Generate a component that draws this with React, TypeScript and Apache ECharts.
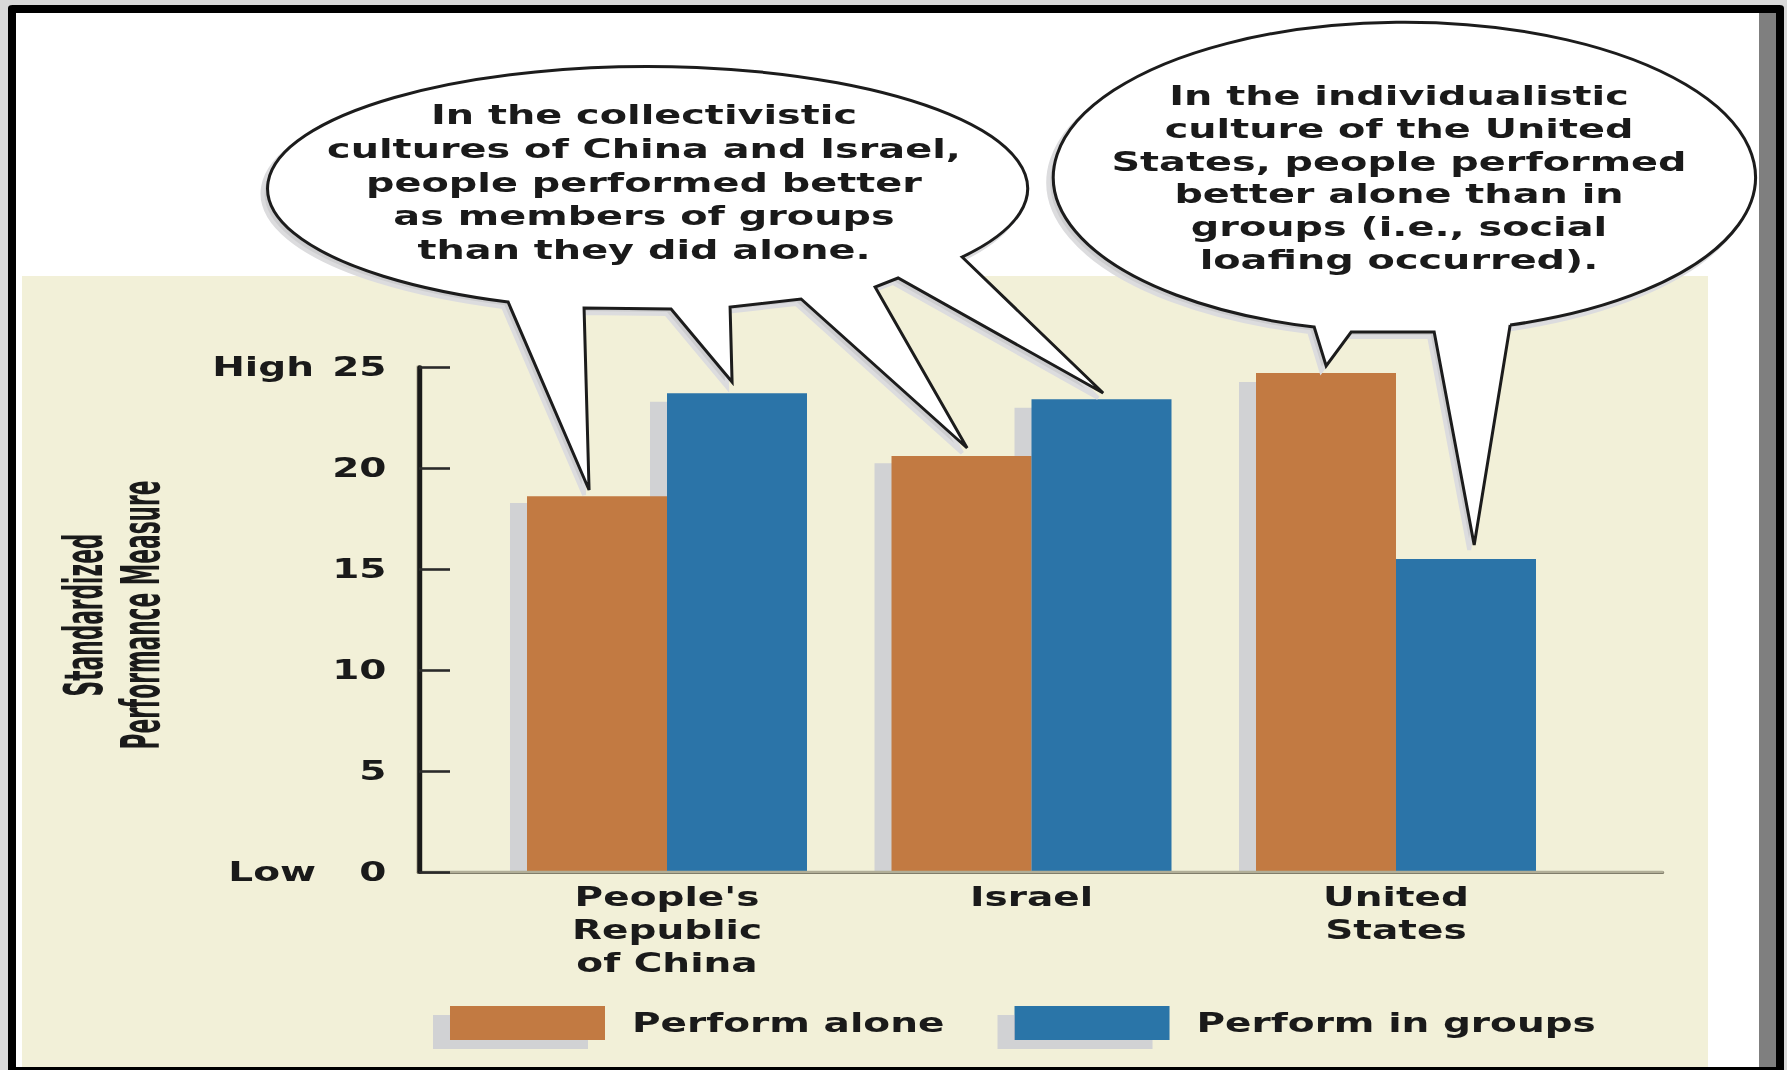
import React, { useEffect, useRef } from 'react';
import * as echarts from 'echarts';

// ---------- data ----------
const categories = ["People's\nRepublic\nof China", 'Israel', 'United\nStates'];
const performAlone = [18.6, 20.6, 24.7];
const performInGroups = [23.7, 23.4, 15.5];
const seriesNames = ['Perform alone', 'Perform in groups'];
const yMin = 0;
const yMax = 25;
const yInterval = 5;
const yTopWord = 'High';
const yBottomWord = 'Low';
const yAxisTitle = ['Standardized', 'Performance Measure'];
const calloutLeft = [
  'In the collectivistic',
  'cultures of China and Israel,',
  'people performed better',
  'as members of groups',
  'than they did alone.',
];
const calloutRight = [
  'In the individualistic',
  'culture of the United',
  'States, people performed',
  'better alone than in',
  'groups (i.e., social',
  'loafing occurred).',
];

// ---------- layout (the reference is a horizontally stretched picture) ----------
const W = 1190;
const H = 1070;
const S = 1787 / W;
const ux = (x: number) => x / S;

const FONT = "'DejaVu Sans', Verdana, sans-serif";
const NARROW = "'Liberation Sans Narrow', 'DejaVu Sans Condensed', sans-serif";
const TXT = '#1a1a1a';
const ORANGE = '#c27a42';
const BLUE = '#2b74a8';
const SHADOW = '#d1d2d4';
const BEIGE = '#f2f0d8';

const bubbleLeftD =
  'M 962 257 L 1103 393 L 898 278 L 875 287 L 967 448 L 801 299 L 730 307 L 732 382 L 671 309 L 584 308 L 589 490 L 508 302 A 380 122 0 1 1 962 257 Z';
const bubbleRightD =
  'M 1510 325 L 1474 545 L 1434 332 L 1351 332 L 1326 366 L 1314 327 A 351 155 0 1 1 1510 325 Z';

let registered = false;
function registerShapes() {
  if (registered) return;
  registered = true;
  echarts.graphic.registerShape('bubbleLeft', echarts.graphic.extendPath(bubbleLeftD, {}) as any);
  echarts.graphic.registerShape('bubbleRight', echarts.graphic.extendPath(bubbleRightD, {}) as any);
}

const axisTop = 367;
const axisBottom = 872;
const bandW = (ux(1396) - ux(667)) / 2;
const barsLeft = ux(667) - bandW / 2;
const barW = ux(140);

const labelFont = { fontFamily: FONT, fontSize: 26, fontWeight: 'bold' as const, color: TXT };

export default function App() {
  const ref = useRef<HTMLDivElement>(null);

  useEffect(() => {
    if (!ref.current) return;
    registerShapes();
    const chart = echarts.init(ref.current, undefined, { renderer: 'svg' });

    const bubbleStyle = { fill: '#ffffff', stroke: '#1c1c1c', lineWidth: 3 };
    const haloStyle = { fill: '#cdcdcf', stroke: '#dcdcde', lineWidth: 4 };

    const option: any = {
      animation: false,
      backgroundColor: 'transparent',
      textStyle: { fontFamily: FONT },
      grid: [
        { left: ux(419), top: axisTop, width: ux(1662) - ux(419), height: axisBottom - axisTop },
        { left: barsLeft, top: axisTop, width: bandW * 3, height: axisBottom - axisTop },
        { left: barsLeft - ux(17), top: 376, width: bandW * 3, height: axisBottom - 376 },
      ],
      xAxis: [
        {
          gridIndex: 0, type: 'value', min: 0, max: 1, position: 'bottom', z: 5,
          axisLine: { show: true, lineStyle: { color: 'rgba(70,65,50,0.75)', width: 3 } },
          axisTick: { show: false }, axisLabel: { show: false }, splitLine: { show: false },
        },
        {
          gridIndex: 0, type: 'value', min: 0, max: 1, position: 'bottom', offset: 2.7, z: 5,
          axisLine: { show: true, lineStyle: { color: '#b1ae97', width: 2.4 } },
          axisTick: { show: false }, axisLabel: { show: false }, splitLine: { show: false },
        },
        {
          gridIndex: 1, type: 'category', data: categories,
          axisLine: { show: false }, axisTick: { show: false }, splitLine: { show: false },
          axisLabel: { ...labelFont, margin: 8, lineHeight: 33, interval: 0 },
        },
        { gridIndex: 2, type: 'category', data: categories, show: false },
      ],
      yAxis: [
        {
          gridIndex: 0, type: 'value', min: yMin, max: yMax, interval: yInterval, position: 'left', z: 6,
          axisLine: { show: true, lineStyle: { color: '#1a1a1a', width: ux(5) } },
          axisTick: { show: true, inside: true, length: ux(31), lineStyle: { color: '#2a2a2a', width: 2.6 } },
          splitLine: { show: false },
          axisLabel: {
            ...labelFont,
            margin: ux(32.5),
            formatter: (v: number) =>
              v === yMax ? `{hi|${yTopWord}}${v}` : v === yMin ? `{lo|${yBottomWord}}${v}` : String(v),
            rich: {
              hi: { ...labelFont, width: ux(120), align: 'left' },
              lo: { ...labelFont, width: ux(131), align: 'left' },
            },
          },
        },
        {
          gridIndex: 0, type: 'value', min: yMin, max: yMax, position: 'left', offset: ux(6), z: 4,
          axisLine: { show: true, lineStyle: { color: '#cfcbb1', width: ux(6) } },
          axisTick: { show: false }, axisLabel: { show: false }, splitLine: { show: false },
        },
        { gridIndex: 1, type: 'value', min: yMin, max: yMax, show: false, splitLine: { show: false } },
        { gridIndex: 2, type: 'value', min: yMin, max: yMax, show: false, splitLine: { show: false } },
      ],
      legend: {
        data: seriesNames,
        left: ux(450),
        top: 1006,
        padding: 0,
        icon: 'rect',
        itemWidth: ux(155),
        itemHeight: 34,
        itemGap: ux(70),
        selectedMode: false,
        itemStyle: { shadowColor: SHADOW, shadowOffsetX: -ux(17), shadowOffsetY: 9, shadowBlur: 0 },
        textStyle: { ...labelFont, padding: [0, 0, 0, ux(27) - 5] },
      },
      series: [
        {
          name: 'alone-shadow', type: 'bar', xAxisIndex: 3, yAxisIndex: 3, data: performAlone,
          barWidth: barW, barGap: '0%', itemStyle: { color: SHADOW }, silent: true, z: 1,
        },
        {
          name: 'groups-shadow', type: 'bar', xAxisIndex: 3, yAxisIndex: 3, data: performInGroups,
          barWidth: barW, barGap: '0%', itemStyle: { color: SHADOW }, silent: true, z: 1,
        },
        {
          name: seriesNames[0], type: 'bar', xAxisIndex: 2, yAxisIndex: 2, data: performAlone,
          barWidth: barW, barGap: '0%', itemStyle: { color: ORANGE }, z: 2,
        },
        {
          name: seriesNames[1], type: 'bar', xAxisIndex: 2, yAxisIndex: 2, data: performInGroups,
          barWidth: barW, barGap: '0%', itemStyle: { color: BLUE }, z: 2,
        },
      ],
      graphic: {
        elements: [
          { type: 'rect', z: -20, shape: { x: 0, y: 0, width: W, height: H }, style: { fill: '#d9d9d9' }, silent: true },
          { type: 'rect', z: -19, shape: { x: ux(8), y: 5, width: ux(1776), height: 1080, r: 3 }, style: { fill: '#000' }, silent: true },
          { type: 'rect', z: -18, shape: { x: ux(16), y: 13, width: ux(1760), height: 1054 }, style: { fill: '#ffffff' }, silent: true },
          { type: 'rect', z: -17, shape: { x: ux(1759), y: 13, width: ux(17), height: 1054 }, style: { fill: '#7f7f7f' }, silent: true },
          { type: 'rect', z: -16, shape: { x: ux(22), y: 276, width: ux(1686), height: 791 }, style: { fill: BEIGE }, silent: true },
          { type: 'bubbleLeft', x: ux(-5), y: 5, scaleX: 1 / S, scaleY: 1, z: 7, style: haloStyle, silent: true },
          { type: 'bubbleRight', x: ux(-5), y: 5, scaleX: 1 / S, scaleY: 1, z: 7, style: haloStyle, silent: true },
          { type: 'bubbleLeft', x: 0, y: 0, scaleX: 1 / S, scaleY: 1, z: 8, style: bubbleStyle, silent: true },
          { type: 'bubbleRight', x: 0, y: 0, scaleX: 1 / S, scaleY: 1, z: 8, style: bubbleStyle, silent: true },
          {
            type: 'text', x: ux(644), y: 182.5, z: 9, silent: true,
            style: {
              text: calloutLeft.join('\n'), fill: TXT, font: `bold 26.5px ${FONT}`,
              align: 'center', verticalAlign: 'middle', lineHeight: 33.7,
            },
          },
          {
            type: 'text', x: ux(1399), y: 178, z: 9, silent: true,
            style: {
              text: calloutRight.join('\n'), fill: TXT, font: `bold 26.5px ${FONT}`,
              align: 'center', verticalAlign: 'middle', lineHeight: 32.8,
            },
          },
          {
            type: 'text', x: ux(112), y: 615, rotation: Math.PI / 2, scaleX: 0.67, scaleY: 1, z: 9, silent: true,
            style: {
              text: yAxisTitle.join('\n'), fill: TXT, font: `bold 36px ${NARROW}`,
              align: 'center', verticalAlign: 'middle', lineHeight: ux(57),
            },
          },
        ],
      },
    };

    chart.setOption(option);
    return () => chart.dispose();
  }, []);

  return (
    <div
      ref={ref}
      style={{
        position: 'fixed',
        left: 0,
        top: 0,
        width: W,
        height: H,
        transform: `scaleX(${S})`,
        transformOrigin: '0 0',
      }}
    />
  );
}
